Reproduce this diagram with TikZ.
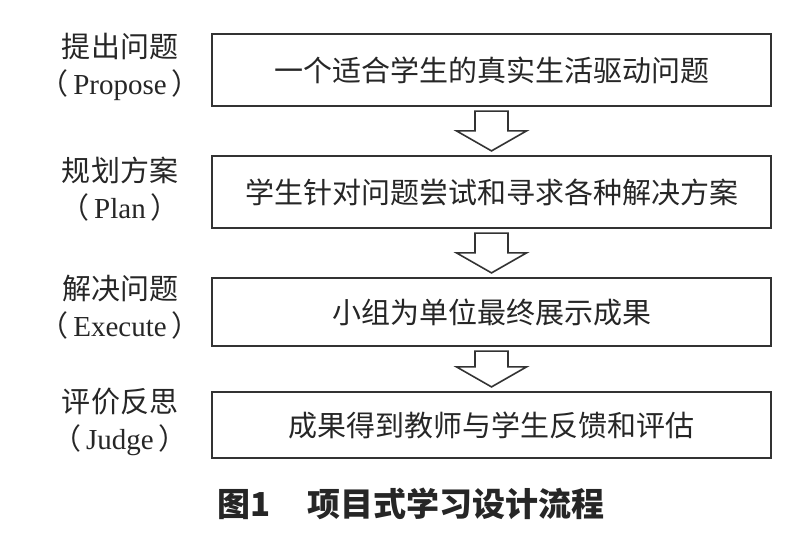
\documentclass[tikz,border=0pt]{standalone}
\usepackage{fontspec}
\setmainfont{Liberation Serif}
\newfontfamily\cjk{Noto Sans CJK SC}
\usetikzlibrary{calc,positioning}

\begin{document}
\begin{tikzpicture}[
    x = 1bp, y = -1bp,
    stepbox/.style = {
      draw = black!80,
      line width = 2.2bp,
      minimum width = 559bp,
      inner sep = 0pt,
      text = black!85,
      font = \cjk\fontsize{29bp}{34bp}\selectfont},
    phase/.style = {
      align = center,
      text = black!85,
      font = \fontsize{29bp}{37bp}\selectfont},
    hollow/.style = {
      draw = black!80,
      line width = 1.6bp,
      fill = white}
      ]
  \useasboundingbox (0,0) rectangle (793,543);

  % The four process boxes
  \node[stepbox, minimum height = 72bp] (p1) at (491.5,70)  {一个适合学生的真实生活驱动问题};
  \node[stepbox, minimum height = 72bp] (p2) at (491.5,192) {学生针对问题尝试和寻求各种解决方案};
  \node[stepbox, minimum height = 68bp] (p3) at (491.5,312) {小组为单位最终展示成果};
  \node[stepbox, minimum height = 66bp] (p4) at (491.5,425) {成果得到教师与学生反馈和评估};

  % Stage names on the left
  \node[phase] (s1) at (120,67)  {{\cjk 提出问题}\\{\cjk （}\,Propose\,{\cjk ）}};
  \node[phase] (s2) at (120,189) {{\cjk 规划方案}\\{\cjk （}\,Plan\,{\cjk ）}};
  \node[phase] (s3) at (120,307) {{\cjk 解决问题}\\{\cjk （}\,Execute\,{\cjk ）}};
  \node[phase] (s4) at (120,422) {{\cjk 评价反思}\\{\cjk （}\,Judge\,{\cjk ）}};

  % Hollow block arrows between the boxes
  \foreach \a/\b in {p1/p2, p2/p3, p3/p4}
    \draw[hollow] ($(\a.south)+(-16.5,4)$) -- ($(\a.south)+(16.5,4)$)
      -- ($(\b.north)+(16.5,-24)$) -- ($(\b.north)+(35,-24)$)
      -- ($(\b.north)+(0,-4)$) -- ($(\b.north)+(-35,-24)$)
      -- ($(\b.north)+(-16.5,-24)$) -- cycle;

  % Caption
  \node[text = black!85, font = \cjk\bfseries\fontsize{33bp}{38bp}\selectfont] (cap) at (411,504) {图1\hspace{36bp}项目式学习设计流程};

\end{tikzpicture}
\end{document}
